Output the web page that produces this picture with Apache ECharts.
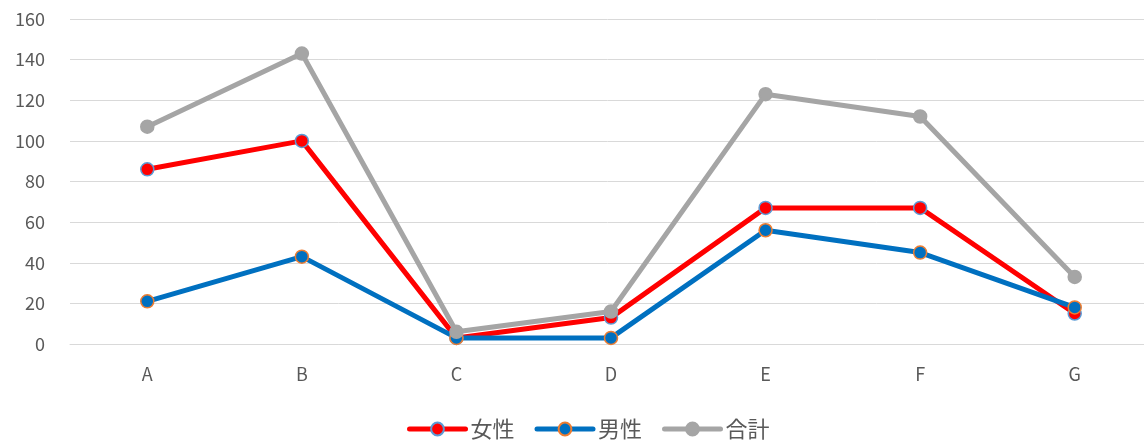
<!DOCTYPE html>
<html>
<head>
<meta charset="utf-8">
<script src="https://cdn.jsdelivr.net/npm/echarts@6/dist/echarts.min.js"></script>
<style>
    html, body { margin: 0; padding: 0; background: #fff; }
    #main { width: 1144px; height: 443px; }
</style>
</head>
<body>
<div id="main"></div>
<script>
// カテゴリと各系列の値
var categories = ['A', 'B', 'C', 'D', 'E', 'F', 'G'];
var female = [86, 100, 3, 13, 67, 67, 15];  // 女性
var male = [21, 43, 3, 3, 56, 45, 18];       // 男性
var total = [107, 143, 6, 16, 123, 112, 33]; // 合計

var font = '"Noto Sans CJK JP", "Noto Sans", sans-serif';

var chart = echarts.init(document.getElementById('main'));
var option = {
    animation: false,
    textStyle: { fontFamily: font },
    grid: {
        left: 70,
        width: 1082,
        top: 19,
        bottom: 99,
        outerBoundsMode: 'none'
    },
    legend: {
        top: 413,
        left: 402,
        itemWidth: 56,
        itemHeight: 16,
        itemGap: 20,
        lineStyle: { width: 5, cap: 'round' },
        textStyle: { fontSize: 22, color: '#595959', fontFamily: font },
        data: ['女性', '男性', '合計']
    },
    xAxis: {
        type: 'category',
        data: categories,
        boundaryGap: true,
        axisLine: { lineStyle: { color: '#d9d9d9', width: 1 } },
        axisTick: { show: false },
        axisLabel: { color: '#595959', fontSize: 18, margin: 21 }
    },
    yAxis: {
        type: 'value',
        min: 0,
        max: 160,
        interval: 20,
        axisLine: { show: false },
        axisTick: { show: false },
        splitLine: { lineStyle: { color: '#d9d9d9', width: 1 } },
        axisLabel: { color: '#595959', fontSize: 18, margin: 25 }
    },
    series: [
        {
            name: '女性',
            type: 'line',
            data: female,
            symbol: 'circle',
            symbolSize: 13,
            lineStyle: { color: '#ff0000', width: 5 },
            itemStyle: { color: '#ff0000', borderColor: '#5b9bd5', borderWidth: 1.5 }
        },
        {
            name: '男性',
            type: 'line',
            data: male,
            symbol: 'circle',
            symbolSize: 13,
            lineStyle: { color: '#0070c0', width: 5 },
            itemStyle: { color: '#0070c0', borderColor: '#ed7d31', borderWidth: 1.5 }
        },
        {
            name: '合計',
            type: 'line',
            data: total,
            symbol: 'circle',
            symbolSize: 13,
            lineStyle: { color: '#a5a5a5', width: 5 },
            itemStyle: { color: '#a5a5a5', borderColor: '#a5a5a5', borderWidth: 1.5 }
        }
    ]
};
chart.setOption(option);
</script>
</body>
</html>
